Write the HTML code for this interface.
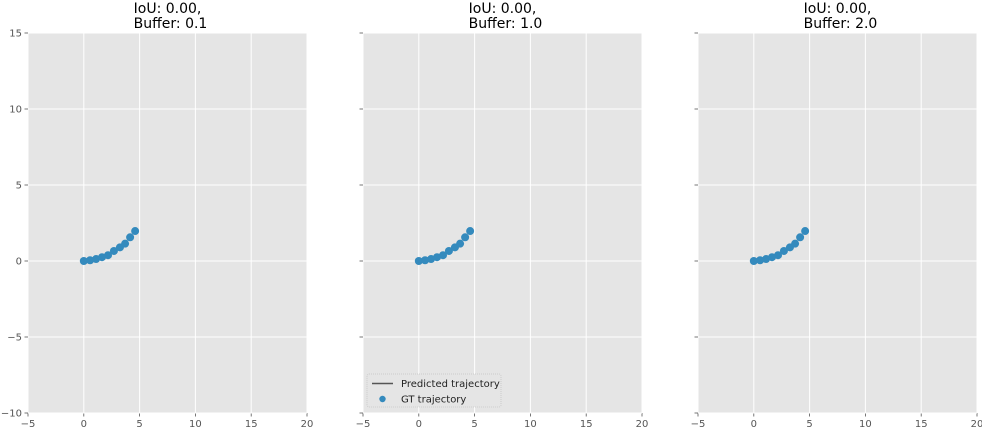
<!DOCTYPE html>
<html><head><meta charset="utf-8"><style>
html,body{margin:0;padding:0;background:#fff;}
svg{display:block;font-family:"DejaVu Sans","Liberation Sans",sans-serif;}
</style></head><body>
<svg id="chart" width="982" height="430" viewBox="0 0 982 430"></svg>
<script>
const titlesIoU = ["IoU: 0.00,", "IoU: 0.00,", "IoU: 0.00,"];
const titlesBuffer = ["Buffer: 0.1", "Buffer: 1.0", "Buffer: 2.0"];
const xTicks = [-5, 0, 5, 10, 15, 20];
const yTicks = [-10, -5, 0, 5, 10, 15];
const gtX = [0, 0.56, 1.1, 1.63, 2.17, 2.7, 3.24, 3.7, 4.15, 4.6];
const gtY = [0, 0.05, 0.13, 0.25, 0.38, 0.66, 0.9, 1.14, 1.56, 1.97];

const NS = "http://www.w3.org/2000/svg";
const svgEl = document.getElementById('chart');
function mk(tag, attrs, parent, text){
  const e = document.createElementNS(NS, tag);
  for (const k in attrs) e.setAttribute(k, attrs[k]);
  if (text !== undefined) e.textContent = text;
  (parent||svgEl).appendChild(e);
  return e;
}
const panelLeft = [28, 363, 698];
const plotW = 279, plotTop = 33, plotH = 380;
const xmin = -5, xmax = 20, ymin = -10, ymax = 15;

panelLeft.forEach((L, p) => {
  const g = mk('g', {});
  
  
  const sx = v => L + (v - xmin) / (xmax - xmin) * plotW;
  const sy = v => plotTop + (ymax - v) / (ymax - ymin) * plotH;
  const bg = mk('rect', {x:L, y:plotTop, width:plotW, height:plotH, fill:'#e5e5e5'}, g);
  
  
  xTicks.forEach(t => {
    const x = sx(t);
    mk('line', {x1:x, x2:x, y1:plotTop, y2:plotTop+plotH, stroke:'#fff', 'stroke-width':1}, g);
    mk('line', {x1:x, x2:x, y1:plotTop+plotH, y2:plotTop+plotH+3.5, stroke:'#555', 'stroke-width':0.8}, g);
    const tl = mk('text', {x:x, y:plotTop+plotH+14, 'text-anchor':'middle', 'font-size':10, fill:'#555'}, g, t < 0 ? '\u2212' + Math.abs(t) : String(t));
    
    
  });
  yTicks.forEach(t => {
    const y = sy(t);
    mk('line', {x1:L, x2:L+plotW, y1:y, y2:y, stroke:'#fff', 'stroke-width':1}, g);
    mk('line', {x1:L-3.5, x2:L, y1:y, y2:y, stroke:'#555', 'stroke-width':0.8}, g);
    if (p === 0) {
      const tl = mk('text', {x:L-6, y:y+3.5, 'text-anchor':'end', 'font-size':10, fill:'#555'}, g, t < 0 ? '\u2212' + Math.abs(t) : String(t));
      
      
    }
  });
  const t1 = mk('text', {x:L+plotW/2, y:13, 'text-anchor':'middle', 'font-size':14, fill:'#000'}, g, titlesIoU[p]);
  
  
  const t2 = mk('text', {x:L+plotW/2+3, y:28, 'text-anchor':'middle', 'font-size':14, fill:'#000'}, g, titlesBuffer[p]);
  
  
  gtX.forEach((v, i) => {
    const c = mk('circle', {cx:sx(v), cy:sy(gtY[i]), r:4, fill:'#348abd'}, g);
    
    
  });
  if (p === 1) {
    const lg = mk('g', {}, g);
    
    
    mk('rect', {x:L+4, y:374, width:134, height:33, fill:'#e5e5e5', stroke:'#ccc', 'stroke-dasharray':'1,1', rx:2}, lg);
    mk('line', {x1:L+9, x2:L+30, y1:383.5, y2:383.5, stroke:'#555', 'stroke-width':1.5}, lg);
    const a = mk('text', {x:L+38, y:387, 'font-size':10, fill:'#222'}, lg, 'Predicted trajectory');
    
    
    mk('circle', {cx:L+19.5, cy:399, r:3.2, fill:'#348abd'}, lg);
    const b = mk('text', {x:L+38, y:402.5, 'font-size':10, fill:'#222'}, lg, 'GT trajectory');
    
    
  }
});
</script>
</body></html>
